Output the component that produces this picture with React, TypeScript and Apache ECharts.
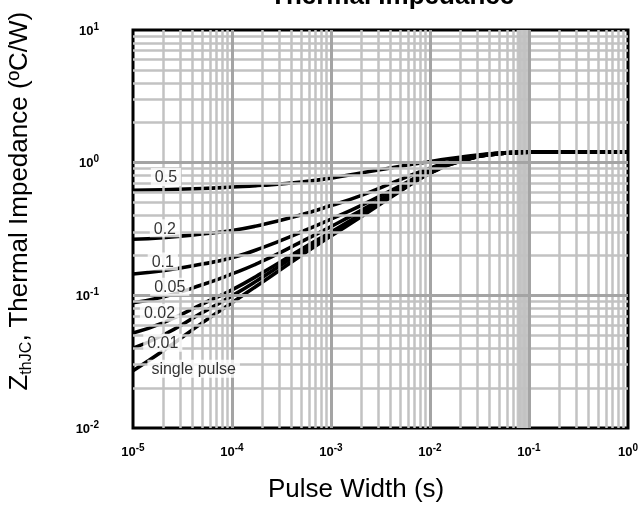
import React, { useEffect, useRef } from "react";
import * as echarts from "echarts";

const pulseWidth = [1e-5, 2e-5, 5e-5, 1e-4, 2e-4, 5e-4, 1e-3, 2e-3, 5e-3, 1e-2, 2e-2, 5e-2, 1e-1, 2e-1, 5e-1, 1];

const dutyNames = ["0.5", "0.2", "0.1", "0.05", "0.02", "0.01", "single pulse"];
const z05 = [0.62, 0.625, 0.638, 0.655, 0.675, 0.715, 0.765, 0.835, 0.94, 1.02, 1.1, 1.18, 1.2, 1.2, 1.2, 1.2];
const z02 = [0.265, 0.272, 0.29, 0.308, 0.34, 0.405, 0.475, 0.565, 0.745, 0.91, 1.06, 1.18, 1.2, 1.2, 1.2, 1.2];
const z01 = [0.145, 0.153, 0.172, 0.192, 0.228, 0.3, 0.375, 0.475, 0.67, 0.87, 1.04, 1.175, 1.2, 1.2, 1.2, 1.2];
const z005 = [0.088, 0.097, 0.12, 0.145, 0.18, 0.253, 0.33, 0.435, 0.64, 0.85, 1.03, 1.17, 1.2, 1.2, 1.2, 1.2];
const z002 = [0.052, 0.062, 0.086, 0.11, 0.147, 0.222, 0.3, 0.408, 0.62, 0.84, 1.025, 1.17, 1.2, 1.2, 1.2, 1.2];
const z001 = [0.04, 0.05, 0.074, 0.099, 0.136, 0.212, 0.29, 0.4, 0.615, 0.835, 1.02, 1.17, 1.2, 1.2, 1.2, 1.2];
const zSingle = [0.027, 0.038, 0.062, 0.088, 0.125, 0.2, 0.28, 0.39, 0.61, 0.83, 1.02, 1.17, 1.2, 1.2, 1.2, 1.2];
const curves = [z05, z02, z01, z005, z002, z001, zSingle];

// curve label anchors (data coords)
const labelX = [2.15e-5, 2.1e-5, 2.0e-5, 2.35e-5, 1.85e-5, 2.0e-5, 4.1e-5];
const labelY = [0.78, 0.32, 0.18, 0.116, 0.074, 0.044, 0.028];

const xMin = 1e-5, xMax = 1;
const yMin = 0.01, yMax = 10;

const FONT = "'Liberation Sans', Arial, Helvetica, sans-serif";

function decadeLines(lo: number, hi: number) {
  const minor: number[] = [];
  const major: number[] = [];
  for (let k = lo; k < hi; k++) {
    const base = Math.pow(10, k);
    if (k > lo) major.push(base);
    for (let m = 2; m <= 9; m++) minor.push(m * base);
  }
  return { minor, major };
}

export default function App() {
  const ref = useRef<HTMLDivElement>(null);
  useEffect(() => {
    if (!ref.current) return;
    const chart = echarts.init(ref.current, undefined, { renderer: "svg" });
    const xg = decadeLines(-5, 0);
    const yg = decadeLines(-2, 1);
    const minorStyle = { color: "#c2c2c2", width: 2.5, type: "solid" };
    const majorStyle = { color: "#a4a4a4", width: 3, type: "solid" };
    const gridLines: any[] = [
      ...xg.minor.map((v) => ({ xAxis: v, lineStyle: minorStyle })),
      ...yg.minor.map((v) => ({ yAxis: v, lineStyle: minorStyle })),
      ...xg.major.map((v) => ({ xAxis: v, lineStyle: majorStyle })),
      ...yg.major.map((v) => ({ yAxis: v, lineStyle: majorStyle })),
    ];
    const fmt = (v: number) => {
      const e = Math.round(Math.log10(v));
      return `{b|10}{s|${e}}`;
    };
    const tickRich = {
      b: { fontSize: 13, fontWeight: "bold", fontFamily: FONT, color: "#000", lineHeight: 18 },
      s: { fontSize: 10, fontWeight: "bold", fontFamily: FONT, color: "#000", verticalAlign: "top", lineHeight: 18 },
    };
    const series: any[] = [
      {
        type: "line",
        data: [],
        z: 1,
        silent: true,
        markArea: {
          silent: true,
          itemStyle: { color: "#c6c6c6" },
          data: [[{ xAxis: 0.075 }, { xAxis: 0.1 }]],
        },
        markLine: {
          silent: true,
          precision: 12,
          symbol: ["none", "none"],
          label: { show: false },
          animation: false,
          data: gridLines,
        },
      },
      ...curves.map((vals, i) => ({
        type: "line",
        name: dutyNames[i],
        z: 3,
        showSymbol: false,
        smooth: 0.5,
        lineStyle: { color: "#000", width: 3.6 },
        data: pulseWidth.map((x, j) => [x, vals[j]]),
      })),
      {
        type: "scatter",
        z: 6,
        symbolSize: 0,
        silent: true,
        data: labelX.map((x, i) => [x, labelY[i], dutyNames[i]]),
        label: {
          show: true,
          position: "inside",
          formatter: (p: any) => p.data[2],
          fontSize: 16,
          fontFamily: FONT,
          color: "#000",
          backgroundColor: "#fff",
          padding: [1, 4, 1, 4],
        },
      },
    ];
    chart.setOption({
      animation: false,
      title: {
        text: "Thermal Impedance",
        left: 265,
        top: -23,
        textStyle: { fontSize: 26, fontWeight: "bold", fontFamily: FONT, color: "#000" },
      },
      grid: {
        left: 133,
        right: 16,
        top: 30,
        bottom: 80,
        outerBoundsMode: "none",
        containLabel: false,
        show: true,
        borderColor: "#000",
        borderWidth: 3,
        backgroundColor: "#fff",
      },
      xAxis: {
        type: "log",
        logBase: 10,
        min: xMin,
        max: xMax,
        axisLine: { show: false },
        axisTick: { show: false },
        splitLine: { show: false },
        axisLabel: { formatter: fmt, rich: tickRich, margin: 14 },
      },
      yAxis: {
        type: "log",
        logBase: 10,
        min: yMin,
        max: yMax,
        axisLine: { show: false },
        axisTick: { show: false },
        splitLine: { show: false },
        axisLabel: { formatter: fmt, rich: tickRich, margin: 34 },
      },
      graphic: [
        {
          type: "text",
          left: 268,
          top: 475,
          style: { text: "Pulse Width (s)", fontSize: 26, fontFamily: FONT, fill: "#000" },
        },
        {
          type: "text",
          x: 18,
          y: 201,
          rotation: Math.PI / 2,
          style: {
            text: "{n|Z}{sub|thJC}{n|, Thermal Impedance (ºC/W)}",
            align: "center",
            verticalAlign: "middle",
            textAlign: "center",
            textVerticalAlign: "middle",
            fill: "#000",
            rich: {
              n: { fontSize: 26, fontFamily: FONT, fill: "#000", color: "#000", lineHeight: 30 },
              sub: { fontSize: 16, fontFamily: FONT, fill: "#000", color: "#000", verticalAlign: "bottom", lineHeight: 30 },
            },
          },
        },
      ],
      series,
    });
    return () => chart.dispose();
  }, []);
  return <div ref={ref} style={{ position: "fixed", left: 0, top: 0, width: 644, height: 508 }} />;
}
